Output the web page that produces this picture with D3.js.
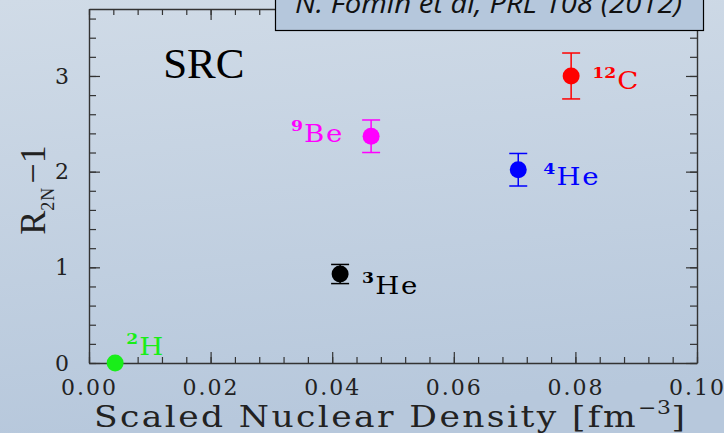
<!DOCTYPE html>
<html>
<head>
<meta charset="utf-8">
<script src="https://cdn.jsdelivr.net/npm/d3@7"></script>
<style>
  body { margin: 0; }
  svg { display: block; }
</style>
</head>
<body>
<div id="chart"></div>
<script>
// Chart values
const nuclei = ["2H", "3He", "4He", "9Be", "12C"];
const massNumber = ["2", "3", "4", "9", "12"];
const symbol = ["H", "He", "He", "Be", "C"];
const density = [0.0043, 0.0413, 0.0706, 0.0464, 0.0793];   // fm^-3
const r2n = [0.0, 0.93, 2.02, 2.37, 3.00];                   // R_2N - 1
const r2nErr = [0.0, 0.10, 0.17, 0.17, 0.24];
const pointColor = ["#19ee19", "#000000", "#0000ff", "#ff00ff", "#ff0000"];

const xMajorTicks = [0.00, 0.02, 0.04, 0.06, 0.08, 0.10];
const yMajorTicks = [0, 1, 2, 3];

// Label placement relative to marker (layout only)
const labelOffset = {
  "2H":  { dx: 11, dy: -8, anchor: "start" },
  "3He": { dx: 22, dy: 20, anchor: "start" },
  "4He": { dx: 25, dy: 15, anchor: "start" },
  "9Be": { dx: -27, dy: 6, anchor: "end" },
  "12C": { dx: 21, dy: 13, anchor: "start" }
};

const width = 724;
const height = 433;
const plotLeft = 89, plotRight = 697, plotTop = 9, plotBottom = 363;

const svg = d3.select("#chart").append("svg")
    .attr("width", width)
    .attr("height", height);

// Background gradient
const grad = svg.append("defs").append("linearGradient")
    .attr("id", "bg")
    .attr("x1", 0).attr("y1", 0).attr("x2", 0.15).attr("y2", 1);
grad.append("stop").attr("offset", "0%").attr("stop-color", "#d0dbe7");
grad.append("stop").attr("offset", "100%").attr("stop-color", "#b7c8dc");
svg.append("rect").attr("width", width).attr("height", height).attr("fill", "url(#bg)");

// Scales
const x = d3.scaleLinear().domain([0, 0.10]).range([plotLeft, plotRight]);
const y = d3.scaleLinear().domain([0, 3.7]).range([plotBottom, plotTop]);

const xMinor = d3.range(0, 26).map(i => i * 0.004);
const yMinor = d3.range(0, 19).map(i => i * 0.2);

const axisColor = "#333";
const tickFont = "'DejaVu Serif', serif";

function styleAxis(g) {
  g.selectAll("path.domain").attr("stroke", axisColor).attr("stroke-width", 1.4);
  g.selectAll(".tick line").attr("stroke", axisColor).attr("stroke-width", 1.2);
  g.selectAll(".tick text")
      .attr("fill", "#222")
      .style("font-family", tickFont)
      .style("font-size", "22px")
      .style("letter-spacing", "2px");
}

// Bottom axis: minor, then major with labels
svg.append("g").attr("transform", `translate(0,${plotBottom})`)
    .call(d3.axisBottom(x).tickValues(xMinor).tickSize(-6).tickSizeOuter(0).tickFormat(""))
    .call(styleAxis);
svg.append("g").attr("transform", `translate(0,${plotBottom})`)
    .call(d3.axisBottom(x).tickValues(xMajorTicks).tickSize(-11).tickSizeOuter(0)
      .tickPadding(16).tickFormat(d3.format(".2f")))
    .call(styleAxis)
    .call(g => g.select(".domain").remove());

// Top axis (mirror)
svg.append("g").attr("transform", `translate(0,${plotTop})`)
    .call(d3.axisTop(x).tickValues(xMinor).tickSize(-6).tickSizeOuter(0).tickFormat(""))
    .call(styleAxis);
svg.append("g").attr("transform", `translate(0,${plotTop})`)
    .call(d3.axisTop(x).tickValues(xMajorTicks).tickSize(-11).tickSizeOuter(0).tickFormat(""))
    .call(styleAxis)
    .call(g => g.select(".domain").remove());

// Left axis
svg.append("g").attr("transform", `translate(${plotLeft},0)`)
    .call(d3.axisLeft(y).tickValues(yMinor).tickSize(-7).tickSizeOuter(0).tickFormat(""))
    .call(styleAxis);
svg.append("g").attr("transform", `translate(${plotLeft},0)`)
    .call(d3.axisLeft(y).tickValues(yMajorTicks).tickSize(-11).tickSizeOuter(0)
      .tickPadding(18).tickFormat(d3.format("d")))
    .call(styleAxis)
    .call(g => g.select(".domain").remove());

// Right axis (mirror)
svg.append("g").attr("transform", `translate(${plotRight},0)`)
    .call(d3.axisRight(y).tickValues(yMinor).tickSize(-7).tickSizeOuter(0).tickFormat(""))
    .call(styleAxis);
svg.append("g").attr("transform", `translate(${plotRight},0)`)
    .call(d3.axisRight(y).tickValues(yMajorTicks).tickSize(-11).tickSizeOuter(0).tickFormat(""))
    .call(styleAxis)
    .call(g => g.select(".domain").remove());

// Axis titles (wide serif look: stretched horizontally)
const xTitle = svg.append("text")
    .attr("transform", "translate(94,427) scale(1.15,1)")
    .attr("fill", "#222")
    .style("font-family", tickFont)
    .style("font-size", "30px")
    .style("letter-spacing", "2.1px");
xTitle.append("tspan").text("Scaled Nuclear Density [fm");
xTitle.append("tspan").attr("dy", -13).style("font-size", "19px").style("letter-spacing", "0.5px").text("\u22123");
xTitle.append("tspan").attr("dy", 13).text("]");

const yTitle = svg.append("text")
    .attr("transform", "translate(45,190) rotate(-90)")
    .attr("text-anchor", "middle")
    .attr("fill", "#222")
    .style("font-family", "'Liberation Serif', serif")
    .style("font-size", "36px");
yTitle.append("tspan").text("R");
yTitle.append("tspan").attr("dy", 9).style("font-size", "18px").style("letter-spacing", "1px").text("2N");
yTitle.append("tspan").attr("dy", -9).attr("dx", 3).text("\u22121");

// SRC annotation
svg.append("text")
    .attr("x", x(0.0122)).attr("y", y(2.98))
    .attr("fill", "#000")
    .style("font-family", "'Liberation Serif', serif")
    .style("font-size", "43px")
    .text("SRC");

// Data points with error bars
const pts = nuclei.map((n, i) => ({
  name: n, mass: massNumber[i], sym: symbol[i],
  x: density[i], y: r2n[i], err: r2nErr[i], color: pointColor[i]
}));

const pg = svg.append("g").selectAll("g").data(pts).join("g");

pg.filter(d => d.err > 0).append("line")
    .attr("x1", d => x(d.x)).attr("x2", d => x(d.x))
    .attr("y1", d => y(d.y - d.err)).attr("y2", d => y(d.y + d.err))
    .attr("stroke", d => d.color).attr("stroke-width", 1.5);
pg.filter(d => d.err > 0).selectAll("line.cap")
    .data(d => [d.y - d.err, d.y + d.err].map(v => ({ v, d })))
    .join("line").attr("class", "cap")
    .attr("x1", e => x(e.d.x) - 9).attr("x2", e => x(e.d.x) + 9)
    .attr("y1", e => y(e.v)).attr("y2", e => y(e.v))
    .attr("stroke", e => e.d.color).attr("stroke-width", 1.5);

pg.append("circle")
    .attr("cx", d => x(d.x)).attr("cy", d => y(d.y))
    .attr("r", 8.5)
    .attr("fill", d => d.color);

const lbl = pg.append("text")
    .attr("transform", d => `translate(${x(d.x) + labelOffset[d.name].dx},${y(d.y) + labelOffset[d.name].dy}) scale(1.15,1)`)
    .attr("text-anchor", d => labelOffset[d.name].anchor)
    .attr("fill", d => d.color)
    .style("font-family", tickFont)
    .style("font-size", "24px");
lbl.append("tspan")
    .attr("dy", -11)
    .style("font-size", "15px")
    .style("font-weight", "bold")
    .text(d => d.mass);
lbl.append("tspan")
    .attr("dy", 11)
    .attr("dx", 1)
    .style("letter-spacing", "1.5px")
    .text(d => d.sym);

// Reference box at the top
svg.append("rect")
    .attr("x", 275.5).attr("y", -5)
    .attr("width", 428).attr("height", 35.5)
    .attr("fill", "#b5c7dc")
    .attr("stroke", "#000").attr("stroke-width", 1.2);
svg.append("text")
    .attr("x", 295).attr("y", 13)
    .attr("textLength", 387)
    .attr("lengthAdjust", "spacingAndGlyphs")
    .attr("fill", "#111")
    .style("font-family", "'Open Sans', sans-serif")
    .style("font-style", "italic")
    .style("font-size", "27px")
    .text("N. Fomin et al, PRL 108 (2012)");
</script>
</body>
</html>
